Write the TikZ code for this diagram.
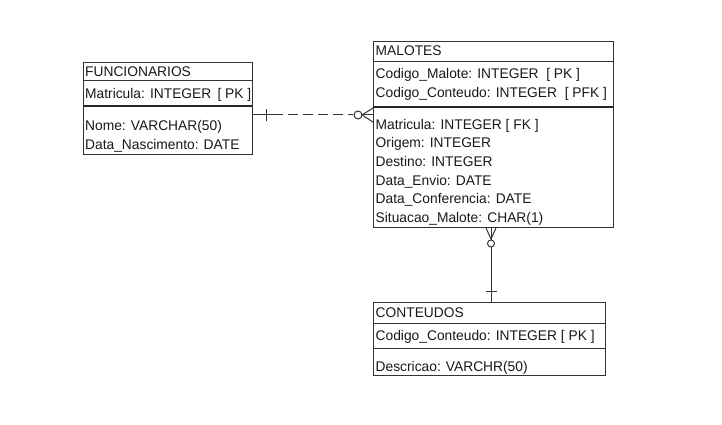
\documentclass[tikz,border=0pt]{standalone}
\usepackage{fontspec}
\setmainfont[FakeStretch=0.985]{Liberation Sans}
\usetikzlibrary{calc}
\begin{document}
\begin{tikzpicture}[x=1pt,y=-1pt,
  tbl/.style={draw=black!80, line width=1pt, anchor=north west, inner sep=0pt},
  txt/.style={anchor=base west, inner sep=0pt, font=\fontsize{14}{16}\selectfont, text=black!90},
  sep/.style={draw=black!80, line width=1pt},
  sepk/.style={draw=black!85, line width=1.8pt},
  conn/.style={draw=black!80, line width=1pt}]
\useasboundingbox (0,0) rectangle (722,425);
\fill[white] (0,0) rectangle (722,425);
% FUNCIONARIOS
\node[tbl, minimum width=169pt, minimum height=92pt] (fun) at (83,62) {};
\draw[sep] (83,81) -- (252,81);
\draw[sepk] (83,106) -- (252,106);
\node[txt] (f0) at (85,76.5) {FUNCIONARIOS};
\node[txt] (f1) at (85,99) {Matricula: INTEGER\ \,[ PK ]};
\node[txt] (f2) at (85,131) {Nome: VARCHAR(50)};
\node[txt] (f3) at (85,149) {Data\_Nascimento: DATE};
% MALOTES
\node[tbl, minimum width=240pt, minimum height=186pt] (mal) at (373,41) {};
\draw[sep] (373,61.5) -- (613,61.5);
\draw[sepk] (373,107) -- (613,107);
\node[txt] (m0) at (375.5,56) {MALOTES};
\node[txt] (m1) at (375.5,79) {Codigo\_Malote: INTEGER\ \ [ PK ]};
\node[txt] (m2) at (375.5,98) {Codigo\_Conteudo: INTEGER\ \ [ PFK ]};
\node[txt] (m3) at (375.5,129) {Matricula: INTEGER [ FK ]};
\node[txt] (m4) at (375.5,147.5) {Origem: INTEGER};
\node[txt] (m5) at (375.5,166) {Destino: INTEGER};
\node[txt] (m6) at (375.5,185) {Data\_Envio: DATE};
\node[txt] (m7) at (375.5,203.5) {Data\_Conferencia: DATE};
\node[txt] (m8) at (375.5,222) {Situacao\_Malote: CHAR(1)};
% CONTEUDOS
\node[tbl, minimum width=232pt, minimum height=73pt] (con) at (373,302) {};
\draw[sep] (373,323) -- (605,323);
\draw[sep] (373,348) -- (605,348);
\node[txt] (c0) at (375.5,317) {CONTEUDOS};
\node[txt] (c1) at (375.5,340) {Codigo\_Conteudo: INTEGER [ PK ]};
\node[txt] (c2) at (375.5,371) {Descricao: VARCHR(50)};
% connector FUNCIONARIOS - MALOTES
\coordinate (fa) at (fun.north east |- 0,115);
\coordinate (ma) at (mal.north west |- 0,115);
\draw[conn] (fa) -- ($(fa)+(30,0)$) coordinate (fd);
\draw[conn] ($(fa)+(13,-6)$) -- ++(0,12);
\draw[conn, dash pattern=on 10pt off 5pt] ($(fd)+(5,0)$) -- ($(ma)+(-20,0)$);
\draw[conn] ($(ma)+(-15,0)$) circle (4);
\draw[conn] ($(ma)+(-11,0)$) -- (ma);
\draw[conn] ($(ma)+(0,-7)$) -- ($(ma)+(-11,0)$) -- ($(ma)+(0,7)$);
% connector MALOTES - CONTEUDOS
\coordinate (mb) at (mal.south west -| 491,0);
\coordinate (cb) at (con.north west -| 491,0);
\draw[conn] (mb) -- ($(mb)+(0,12)$);
\draw[conn] ($(mb)+(-5,0)$) -- ($(mb)+(0,11)$) -- ($(mb)+(5,0)$);
\draw[conn] ($(mb)+(0,15.5)$) circle (3.5);
\draw[conn] ($(mb)+(0,19)$) -- (cb);
\draw[conn] ($(cb)+(-5.5,-11)$) -- ++(11,0);
\end{tikzpicture}
\end{document}
